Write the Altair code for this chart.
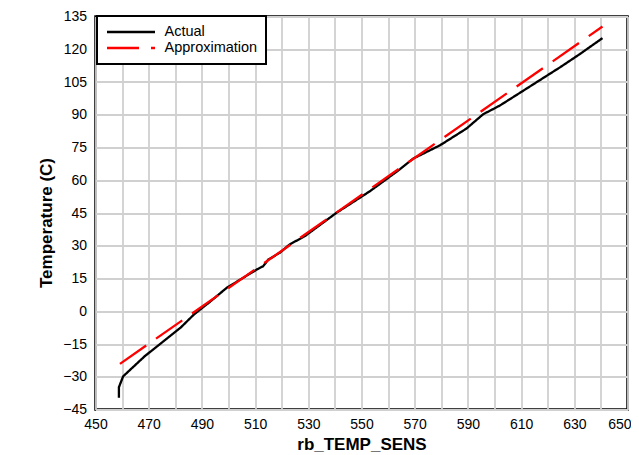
import altair as alt
import pandas as pd

# Actual sensor curve
actual_x = [458.8, 458.8, 460.4, 468.5, 482.0, 487.0, 493.0, 499.3, 510.6, 513.0,
            515.0, 519.3, 523.0, 528.7, 540.6, 553.2, 564.4, 569.4, 579.5, 589.5,
            595.7, 602.0, 609.5, 624.6, 632.1, 640.6]
actual_y = [-39.6, -34.8, -29.8, -20.6, -7.5, -1.5, 4.3, 10.7, 19.1, 20.6,
            23.7, 26.8, 30.6, 34.4, 45.1, 55.0, 65.0, 69.9, 76.0, 83.7,
            90.2, 94.2, 100.0, 111.7, 117.8, 125.1]
# Linear approximation
approx_x = [459.2, 640.6]
approx_y = [-24.1, 130.4]

series_names = ["Actual", "Approximation"]
x_ticks = list(range(450, 651, 10))
y_ticks = list(range(-45, 136, 15))

df_actual = pd.DataFrame({"x": actual_x, "y": actual_y, "series": series_names[0], "order": range(len(actual_x))})
df_approx = pd.DataFrame({"x": approx_x, "y": approx_y, "series": series_names[1], "order": range(len(approx_x))})

FONT = "Liberation Sans"

x_enc = alt.X("x:Q", scale=alt.Scale(domain=[450, 650], nice=False, zero=False),
              axis=alt.Axis(title="rb_TEMP_SENS", values=x_ticks,
                            labelExpr="datum.value % 20 == 0 ? '' : datum.label",
                            labelFlush=False, labelOverlap=False,
                            labelAlign={"condition": {"test": "datum.value >= 650", "value": "right"}, "value": "center"},
                            labelOffset={"condition": {"test": "datum.value >= 650", "value": 3.5}, "value": 0},
                            titleBaseline="alphabetic", titleY=40))
y_enc = alt.Y("y:Q", scale=alt.Scale(domain=[-45, 135], nice=False, zero=False),
              axis=alt.Axis(title="Temperature (C)", values=y_ticks,
                            labelFlush=False, labelOverlap=False,
                            titleAngle=270, titleBaseline="alphabetic",
                            titleAlign="center", titleX=-44, titleY=206))

color = alt.Color("series:N", scale=alt.Scale(domain=series_names, range=["black", "#ff0000"]),
                  legend=alt.Legend(title=None, orient="none", legendX=1.5, legendY=-0.5,
                                    symbolType="stroke", symbolSize=2304, symbolStrokeWidth=2.3,
                                    clipHeight=15,
                                    labelFontSize=14.5, labelFont=FONT, labelColor="black",
                                    labelOffset=8, padding=8.5, rowPadding=0,
                                    strokeColor="black", fillColor="white"))
dash = alt.StrokeDash("series:N", scale=alt.Scale(domain=series_names, range=[[1, 0], [32, 12]]),
                      legend=None)

line_actual = alt.Chart(df_actual).mark_line(strokeWidth=2.3, clip=True).encode(
    x=x_enc, y=y_enc, color=color, strokeDash=dash, order="order:Q")
line_approx = alt.Chart(df_approx).mark_line(strokeWidth=2.3, clip=True).encode(
    x=x_enc, y=y_enc, color=color, strokeDash=dash, order="order:Q")

chart = alt.layer(line_actual, line_approx).properties(
    width=532, height=393,
    autosize=alt.AutoSizeParams(type="none"),
    padding={"left": 87.5, "top": 8.5, "right": 3.5, "bottom": 45.5},
    background="white",
).configure_view(
    stroke="black", strokeWidth=2.5
).configure_axis(
    grid=True, gridColor="#d0d0d0", gridWidth=1.8, domain=False, ticks=False,
    labelFont=FONT, labelFontSize=14, labelColor="black", labelPadding=8,
    titleFont=FONT, titleFontSize=17, titleFontWeight="bold", titleColor="black",
).configure_axisY(labelPadding=9).configure_legend(strokeWidth=2)

chart.save("out.html", embed_options={"renderer": "svg", "actions": False})
